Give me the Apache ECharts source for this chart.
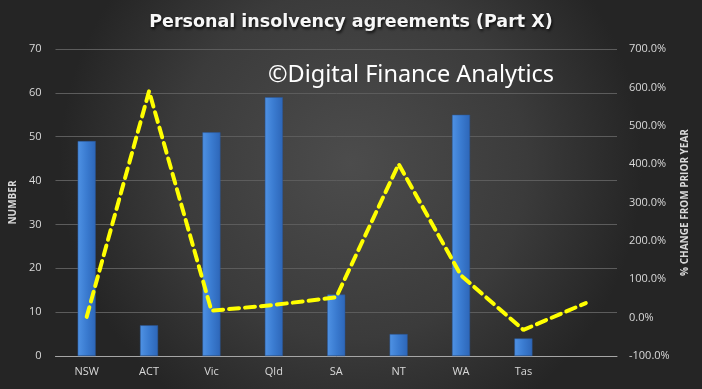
<!DOCTYPE html>
<html>
<head>
<meta charset="utf-8">
<script src="https://cdn.jsdelivr.net/npm/echarts@6/dist/echarts.min.js"></script>
<style>
html,body{margin:0;padding:0;background:#333;}
#c{width:702px;height:389px;}
</style>
</head>
<body>
<div id="c"></div>
<script>
var categories = ['NSW','ACT','Vic','Qld','SA','NT','WA','Tas',''];
var numberValues = [49, 7, 51, 59, 14, 5, 55, 4, null];
var changeValues = [2, 590, 18, 33, 53, 400, 110, -32, 38];
var leftTicks = {min: 0, max: 70, interval: 10};
var rightTicks = {min: -100, max: 700, interval: 100};

var chart = echarts.init(document.getElementById('c'), null, {renderer: 'canvas'});
var labelColor = '#d9d9d9';
var font = '"Open Sans", "Noto Sans", sans-serif';
chart.setOption({
  animation: false,
  backgroundColor: {
    type: 'radial', x: 0.5, y: 0.42, r: 0.75,
    colorStops: [{offset: 0, color: '#4c4c4c'}, {offset: 0.6, color: '#3b3b3b'}, {offset: 1, color: '#252525'}]
  },
  title: {
    text: 'Personal insolvency agreements (Part X)',
    left: 'center', top: 8,
    textStyle: {
      color: '#f7f7f7', fontFamily: '"DejaVu Sans", sans-serif', fontWeight: 'bold', fontSize: 17.5,
      textShadowColor: 'rgba(0,0,0,0.8)', textShadowBlur: 3, textShadowOffsetX: 1, textShadowOffsetY: 2
    }
  },
  graphic: [{
    type: 'text', left: 268, top: 63, z: 10,
    style: {text: '\u00A9Digital Finance Analytics', fill: '#ffffff', font: '23.5px "Noto Sans", sans-serif'}
  }],
  grid: {left: 54, right: 85, top: 49, bottom: 33, containLabel: false},
  xAxis: {
    type: 'category', data: categories,
    axisLine: {lineStyle: {color: '#a6a6a6', width: 1}},
    axisTick: {show: false},
    axisLabel: {color: labelColor, fontSize: 11, fontFamily: font, margin: 10}
  },
  yAxis: [{
    type: 'value', min: leftTicks.min, max: leftTicks.max, interval: leftTicks.interval,
    name: 'NUMBER', nameLocation: 'middle', nameGap: 32, nameRotate: 90,
    nameTextStyle: {color: labelColor, fontSize: 10, fontWeight: 'bold', fontFamily: font},
    axisLine: {show: false}, axisTick: {show: false},
    axisLabel: {color: labelColor, fontSize: 11, fontFamily: font, margin: 14},
    splitLine: {lineStyle: {color: '#5c5c5c', width: 1}}
  }, {
    type: 'value', min: rightTicks.min, max: rightTicks.max, interval: rightTicks.interval,
    name: '% CHANGE FROM PRIOR YEAR', nameLocation: 'middle', nameGap: 58, nameRotate: 90,
    nameTextStyle: {color: labelColor, fontSize: 10, fontWeight: 'bold', fontFamily: font},
    axisLine: {show: false}, axisTick: {show: false},
    axisLabel: {color: labelColor, fontSize: 11, fontFamily: font, margin: 12,
      formatter: function (v) { return v.toFixed(1) + '%'; }},
    splitLine: {show: false}
  }],
  series: [{
    type: 'bar', data: numberValues, yAxisIndex: 0, barWidth: 18,
    itemStyle: {
      color: {type: 'linear', x: 0, y: 0, x2: 1, y2: 0,
        colorStops: [{offset: 0, color: '#4f92e4'}, {offset: 0.5, color: '#3a7bd0'}, {offset: 1, color: '#2d66b8'}]},
      borderColor: '#2a5796', borderWidth: 0.5
    }
  }, {
    type: 'line', data: changeValues, yAxisIndex: 1,
    symbol: 'none', smooth: false, z: 5,
    lineStyle: {color: '#ffff00', width: 4, type: [10, 6], cap: 'round'}
  }]
});
</script>
</body>
</html>
